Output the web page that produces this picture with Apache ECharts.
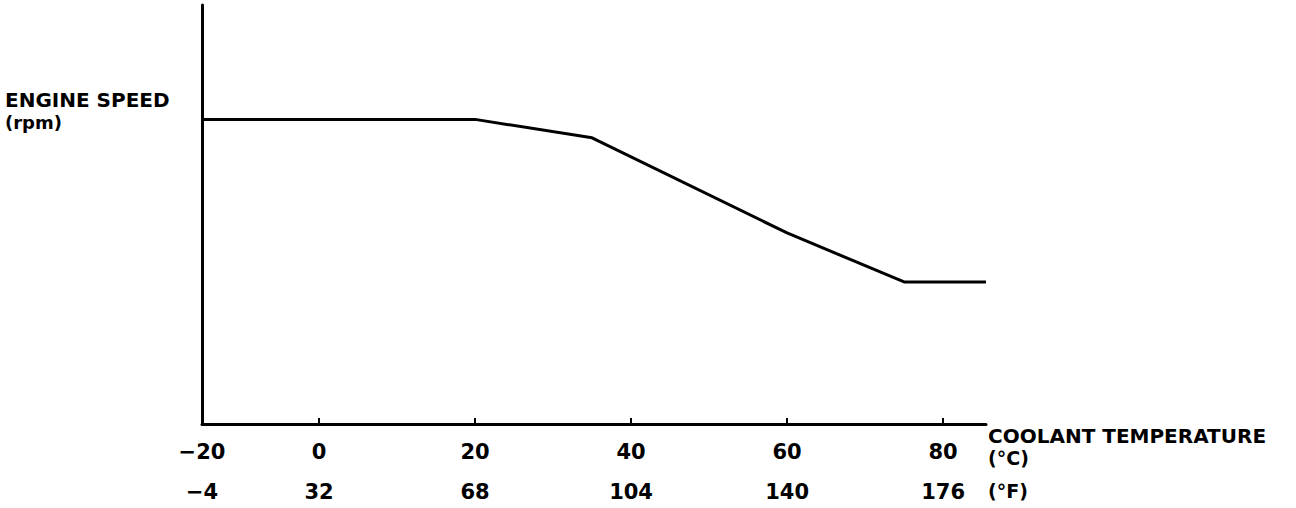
<!DOCTYPE html>
<html>
<head>
<meta charset="utf-8">
<script src="https://cdn.jsdelivr.net/npm/echarts@6/dist/echarts.min.js"></script>
<style>
  html, body { margin: 0; padding: 0; background: #fff; }
  #chart { width: 1296px; height: 508px; }
</style>
</head>
<body>
<div id="chart"></div>
<script>
// ---- data ----
// coolant temperature (°C) positions of the curve vertices; the axis is broken at its left end
var tempC = [-15, 20, 35, 60, 75, 85.5];
// engine speed in relative units (axis unlabelled)
var speed = [72.7, 72.7, 68.3, 45.6, 33.9, 33.9];
// tick label positions and texts
var tickValues = [-15, 0, 20, 40, 60, 80];
var tickLabelsC = ['\u221220', '0', '20', '40', '60', '80'];
var tickLabelsF = ['\u22124', '32', '68', '104', '140', '176'];
var tickMarks = [0, 20, 40, 60, 80];
var yTitle = ['ENGINE SPEED', '(rpm)'];
var xTitle = ['COOLANT TEMPERATURE', '(\u00b0C)', '(\u00b0F)'];

var FONT = 'DejaVu Sans';
var chart = echarts.init(document.getElementById('chart'), null, { renderer: 'svg' });

var points = tempC.map(function (t, i) { return [t, speed[i]]; });

chart.setOption({
  animation: false,
  backgroundColor: '#ffffff',
  grid: { left: 202, right: 310, top: 5, bottom: 84, containLabel: false },
  xAxis: {
    type: 'value',
    min: -15,
    max: 85.5,
    splitLine: { show: false },
    axisLine: { show: true, onZero: false, lineStyle: { color: '#000', width: 3 } },
    axisTick: {
      show: true, inside: true, length: 6,
      customValues: tickMarks,
      lineStyle: { color: '#000', width: 2 }
    },
    axisLabel: {
      show: true,
      customValues: tickValues,
      margin: 8,
      formatter: function (v) {
        var i = tickValues.indexOf(v);
        if (i < 0) return '';
        return '{c|' + tickLabelsC[i] + '}\n{f|' + tickLabelsF[i] + '}';
      },
      rich: {
        c: { fontFamily: FONT, fontWeight: 'bold', fontSize: 21, color: '#000', lineHeight: 40, align: 'center' },
        f: { fontFamily: FONT, fontWeight: 'bold', fontSize: 21, color: '#000', lineHeight: 40, align: 'center' }
      }
    },
    name: '{a|' + xTitle[0] + '}\n{b|' + xTitle[1] + '}\n{d|' + xTitle[2] + '}',
    nameLocation: 'end',
    nameGap: 2,
    nameTextStyle: {
      verticalAlign: 'top',
      align: 'left',
      padding: [1, 0, 0, 0],
      rich: {
        a: { fontFamily: FONT, fontWeight: 'bold', fontSize: 20, color: '#000', lineHeight: 22 },
        b: { fontFamily: FONT, fontWeight: 'bold', fontSize: 19, color: '#000', lineHeight: 22 },
        d: { fontFamily: FONT, fontWeight: 'bold', fontSize: 19, color: '#000', lineHeight: 44 }
      }
    }
  },
  yAxis: {
    type: 'value',
    min: 0,
    max: 100,
    splitLine: { show: false },
    axisLine: { show: true, onZero: false, lineStyle: { color: '#000', width: 3 } },
    axisTick: { show: false },
    axisLabel: { show: false }
  },
  graphic: [
    {
      type: 'text',
      left: 5,
      top: 90,
      style: {
        text: '{a|' + yTitle[0] + '}\n{b|' + yTitle[1] + '}',
        rich: {
          a: { fontFamily: FONT, fontWeight: 'bold', fontSize: 20, fill: '#000', lineHeight: 22 },
          b: { fontFamily: FONT, fontWeight: 'bold', fontSize: 18, fill: '#000', lineHeight: 22 }
        }
      }
    }
  ],
  series: [{
    type: 'line',
    data: points,
    showSymbol: false,
    symbol: 'none',
    lineStyle: { color: '#000', width: 3 },
    silent: true
  }]
});
</script>
</body>
</html>
